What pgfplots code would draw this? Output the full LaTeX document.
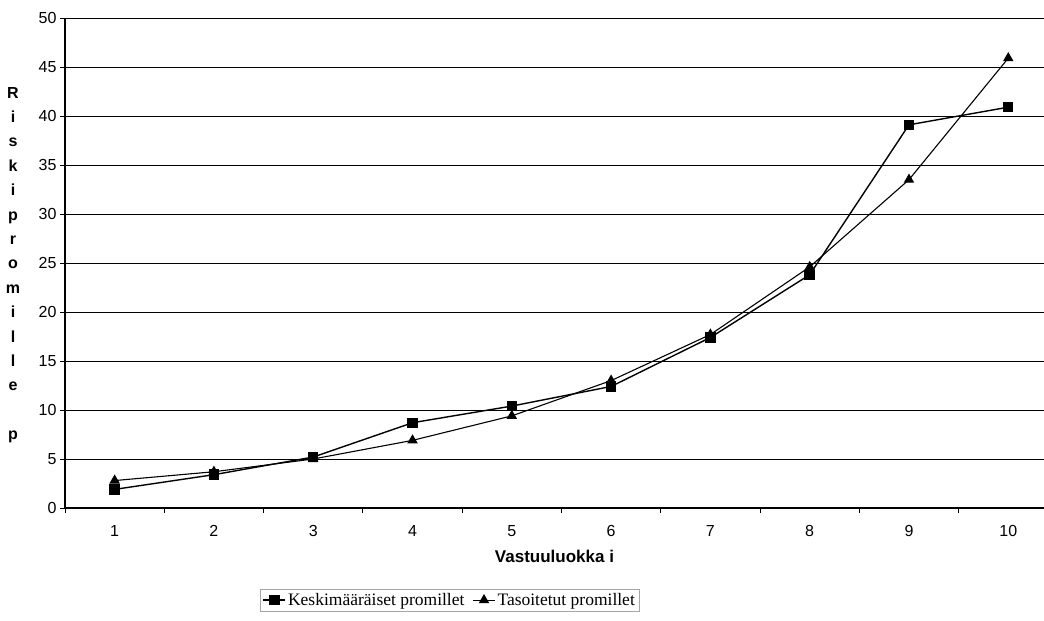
\documentclass[border=0pt]{standalone}
\usepackage{pgfplots}
\pgfplotsset{compat=1.18}
\usepackage{fontspec}
\setmainfont{Liberation Sans}
\newfontfamily\seriffont{Liberation Serif}
\begin{document}
\begin{tikzpicture}[x=1pt,y=1pt]
\useasboundingbox (0,0) rectangle (1044,621);
\begin{axis}[
  at={(65pt,113pt)}, anchor=south west,
  scale only axis, width=979pt, height=490pt,
  xmin=0.5, xmax=10.36, ymin=0, ymax=50,
  axis x line*=bottom, axis y line*=left,
  axis line style={line width=1.2pt, black},
  xtick={1,...,10},
  minor xtick={0.5,1.5,...,9.5},
  ytick={0,5,...,50},
  tick align=outside,
  major tick length=5pt, minor tick length=5pt,
  xtick style={draw=none},
  minor x tick style={draw=black, line width=0.8pt},
  ytick style={black, line width=0.8pt},
  ymajorgrids, major grid style={black, line width=0.8pt},
  /pgf/number format/assume math mode=true,
  tick label style={font=\fontsize{16}{18}\selectfont},
  xticklabel style={yshift=-9pt},
  xlabel={\textbf{Vastuuluokka i}},
  xlabel style={font=\fontsize{17}{19}\selectfont, yshift=-6pt},
  legend columns=2,
  legend style={at={(0.393,-0.188)}, anchor=center, draw=gray!70, line width=0.6pt,
    font=\seriffont\fontsize{17.5}{19}\selectfont, inner sep=2pt,
    /tikz/every even column/.append style={column sep=6pt}},
  legend image code/.code={
    \draw[#1] (0pt,0pt) -- (22pt,0pt);
    \draw[#1, only marks] plot coordinates {(11pt,0pt)};
  },
]
\addplot[black, line width=1.4pt, mark=square*, mark size=4.5pt, mark options={solid}]
coordinates {(1,1.9) (2,3.4) (3,5.2) (4,8.7) (5,10.4) (6,12.4) (7,17.4) (8,23.8) (9,39.1) (10,40.9)};
\addlegendentry{Keskimääräiset promillet}
\addplot[black, line width=1.1pt, mark=triangle*, mark size=5pt, mark options={solid}]
coordinates {(1,2.8) (2,3.7) (3,5.0) (4,6.9) (5,9.4) (6,13.0) (7,17.7) (8,24.6) (9,33.5) (10,45.9)};
\addlegendentry{Tasoitetut promillet}
\end{axis}
\node[align=center, font=\bfseries\fontsize{16}{24.4}\selectfont, inner sep=0pt] at (13,356)
 {R\\i\\s\\k\\i\\p\\r\\o\\m\\i\\l\\l\\e\\[24.4pt]p};
\end{tikzpicture}
\end{document}
